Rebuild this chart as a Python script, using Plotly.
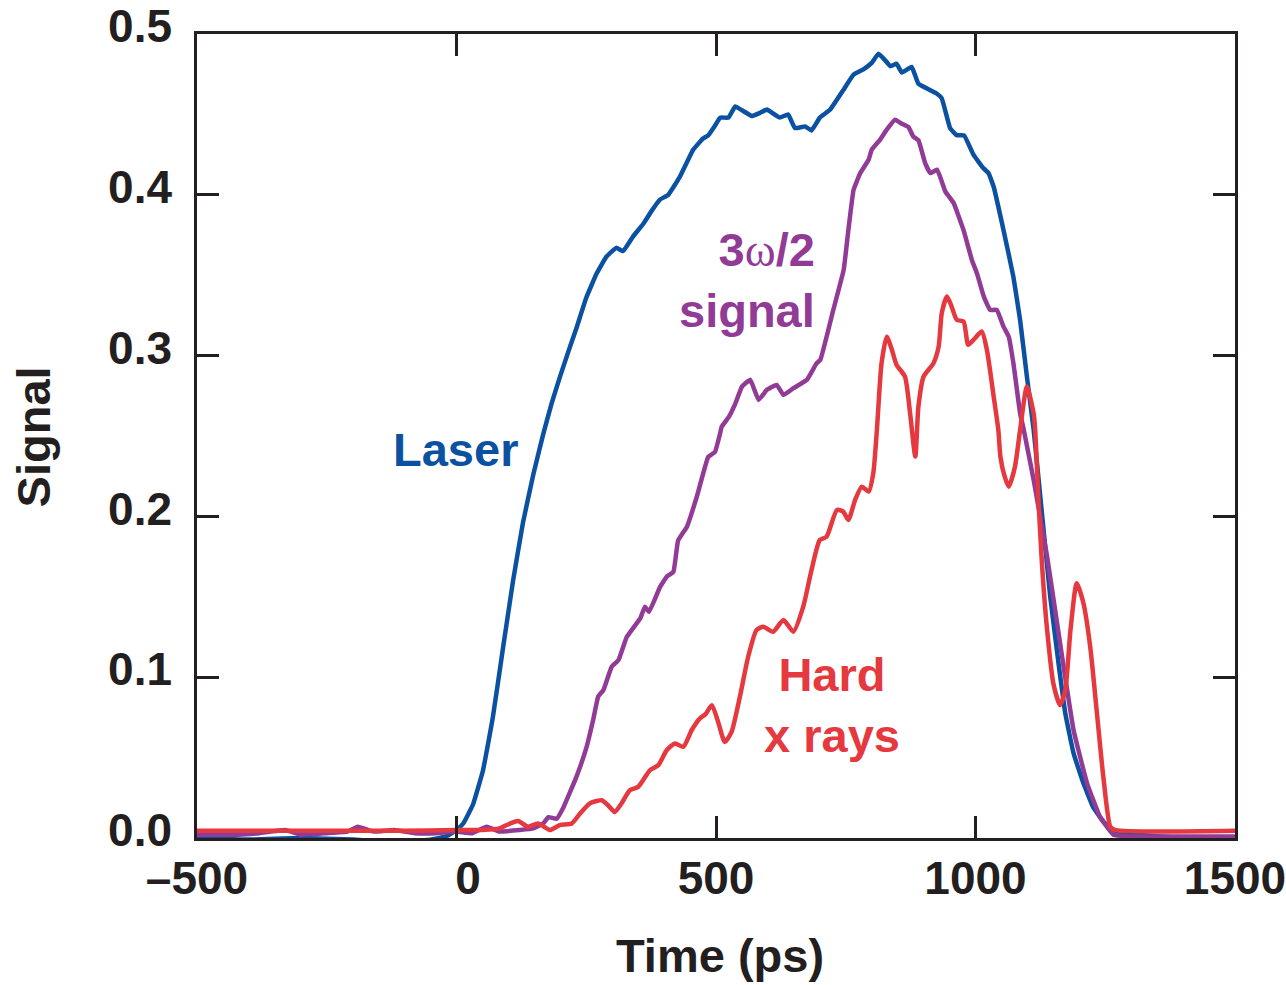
import plotly.graph_objects as go

# ---- data ----
laser_t = [-500, -400, -300, -200, -150, -100, -50, -20, 0, 13, 32, 51, 70, 90, 109, 128, 148, 167, 183, 199,
           215, 231, 250, 270, 289, 308, 321, 340, 360, 376, 392, 408, 430, 456, 475, 485, 498, 508, 524, 537,
           553, 569, 585, 598, 623, 639, 652, 672, 684, 700, 720, 745, 765, 784, 800, 813, 825, 836, 848, 858,
           877, 890, 913, 925, 935, 951, 964, 978, 996, 1015, 1025, 1035, 1054, 1073, 1086, 1099, 1112, 1128,
           1144, 1160, 1173, 1189, 1208, 1227, 1247, 1266, 1290, 1311, 1400, 1500]
laser_y = [0.0, -0.001, 0.0, -0.001, -0.002, -0.002, -0.001, 0.001, 0.005, 0.009, 0.021, 0.042, 0.075, 0.119,
           0.160, 0.196, 0.226, 0.251, 0.270, 0.2865, 0.302, 0.317, 0.336, 0.351, 0.3616, 0.367, 0.365, 0.374,
           0.382, 0.390, 0.397, 0.400, 0.411, 0.428, 0.435, 0.437, 0.443, 0.448, 0.448, 0.455, 0.452, 0.449,
           0.451, 0.453, 0.448, 0.450, 0.4415, 0.4425, 0.440, 0.448, 0.453, 0.465, 0.4747, 0.478, 0.482, 0.4877,
           0.484, 0.480, 0.4815, 0.476, 0.4795, 0.469, 0.465, 0.463, 0.460, 0.4415, 0.437, 0.437, 0.425, 0.4166,
           0.4135, 0.405, 0.378, 0.349, 0.322, 0.287, 0.254, 0.202, 0.150, 0.1086, 0.0775, 0.0526, 0.034, 0.019,
           0.010, 0.005, 0.003, 0.002, 0.0, -0.001]

signal_t = [-500, -420, -380, -330, -300, -250, -210, -190, -160, -120, -80, -40, 0, 30, 58, 83, 122, 148, 167,
            177, 193, 206, 231, 251, 263, 273, 283, 299, 312, 328, 354, 363, 371, 392, 405, 418, 427, 444, 463,
            485, 498, 508, 511, 525, 537, 550, 566, 582, 598, 617, 630, 649, 675, 694, 701, 726, 746, 755, 765,
            778, 794, 800, 816, 829, 845, 858, 871, 880, 890, 903, 913, 926, 942, 958, 977, 993, 1003, 1016,
            1028, 1041, 1054, 1064, 1073, 1086, 1093, 1112, 1138, 1163, 1189, 1215, 1240, 1266, 1300, 1500]
signal_y = [0.002, 0.002, 0.003, 0.005, 0.002, 0.003, 0.004, 0.007, 0.004, 0.005, 0.003, 0.003, 0.004, 0.003,
            0.007, 0.004, 0.005, 0.006, 0.009, 0.013, 0.012, 0.019, 0.038, 0.057, 0.073, 0.088, 0.092, 0.1065,
            0.1106, 0.125, 0.1366, 0.1438, 0.1407, 0.156, 0.1625, 0.1656, 0.185, 0.1936, 0.2122, 0.237, 0.240,
            0.2517, 0.2558, 0.262, 0.270, 0.2807, 0.285, 0.2724, 0.2787, 0.2818, 0.2755, 0.2797, 0.2849, 0.2953,
            0.2973, 0.3284, 0.3533, 0.378, 0.403, 0.4135, 0.4218, 0.428, 0.4342, 0.4405, 0.4467, 0.4442, 0.4421,
            0.4363, 0.434, 0.4197, 0.4135, 0.4156, 0.402, 0.3948, 0.378, 0.3595, 0.351, 0.3367, 0.3284, 0.3284,
            0.318, 0.3118, 0.2953, 0.264, 0.2538, 0.2227, 0.175, 0.121, 0.067, 0.034, 0.013, 0.002, 0.001, 0.001]

xray_t = [-500, -300, -100, 0, 50, 83, 103, 119, 138, 157, 180, 199, 222, 238, 257, 270, 280, 292, 305, 318,
          334, 350, 373, 389, 405, 421, 437, 453, 469, 480, 492, 505, 517, 530, 546, 562, 578, 591, 610, 630,
          649, 668, 684, 700, 713, 733, 745, 755, 768, 781, 794, 803, 810, 819, 829, 839, 848, 864, 874, 884,
          890, 900, 919, 929, 935, 945, 954, 964, 977, 986, 999, 1012, 1022, 1035, 1044, 1048, 1056, 1064,
          1076, 1086, 1099, 1112, 1115, 1121, 1128, 1138, 1150, 1163, 1173, 1183, 1195, 1208, 1221, 1234,
          1247, 1260, 1270, 1500]
xray_y = [0.0045, 0.0045, 0.0045, 0.005, 0.005, 0.006, 0.009, 0.0106, 0.007, 0.009, 0.005, 0.008, 0.009,
          0.0152, 0.0215, 0.023, 0.0235, 0.0204, 0.0162, 0.0215, 0.0297, 0.0318, 0.0422, 0.0453, 0.0546, 0.0588,
          0.0567, 0.067, 0.0744, 0.077, 0.0826, 0.0712, 0.0598, 0.066, 0.0878, 0.1127, 0.1293, 0.1314, 0.1283,
          0.1355, 0.1283, 0.1438, 0.1666, 0.1853, 0.1874, 0.204, 0.203, 0.1978, 0.2102, 0.2185, 0.2154, 0.2268,
          0.2538, 0.2953, 0.3118, 0.3035, 0.2942, 0.287, 0.264, 0.2372, 0.2683, 0.287, 0.2953, 0.3056, 0.3264,
          0.3367, 0.3305, 0.3222, 0.3212, 0.3067, 0.3108, 0.315, 0.3035, 0.2745, 0.2538, 0.2372, 0.225, 0.2185,
          0.2309, 0.2538, 0.2807, 0.264, 0.2538, 0.2122, 0.1708, 0.1293, 0.0961, 0.0826, 0.092, 0.1293, 0.1584,
          0.146, 0.119, 0.0775, 0.036, 0.0069, 0.0049, 0.0045]

x_tickvals = [-500, 0, 500, 1000, 1500]
x_ticktext = ["\u2013500", "\u20020", "500", "1000", "1500"]
y_tickvals = [0.0, 0.1, 0.2, 0.3, 0.4, 0.5]
y_ticktext = ["0.0", "0.1", "0.2", "0.3", "0.4", "0.5"]

BLUE = "#0b51a2"
PURPLE = "#913b97"
RED = "#e5383f"
AXIS = "#231f20"
FONT = "Liberation Sans, Arial, Helvetica, sans-serif"
FS = 46

fig = go.Figure()
fig.add_trace(go.Scatter(x=laser_t, y=laser_y, mode="lines",
                         line=dict(color=BLUE, width=4.5, shape="spline", smoothing=0.3), name="Laser"))
fig.add_trace(go.Scatter(x=signal_t, y=signal_y, mode="lines",
                         line=dict(color=PURPLE, width=4.5, shape="spline", smoothing=0.3), name="3ω/2 signal"))
fig.add_trace(go.Scatter(x=xray_t, y=xray_y, mode="lines",
                         line=dict(color=RED, width=4.5, shape="spline", smoothing=0.6), name="Hard x rays"))

axis_common = dict(
    showgrid=False, zeroline=False, showline=True, linecolor=AXIS, linewidth=2.5,
    mirror="ticks", ticks="inside", ticklen=22, tickwidth=2.5, tickcolor=AXIS,
    tickfont=dict(family=FONT, size=FS, color=AXIS, weight="bold"),
    ticklabeloverflow="allow", automargin=False,
)

fig.update_xaxes(range=[-500, 1500], tickvals=x_tickvals, ticktext=x_ticktext,
                 ticklabelstandoff=-2, **axis_common)
fig.update_yaxes(range=[0, 0.5], tickvals=y_tickvals, ticktext=y_ticktext,
                 ticklabelstandoff=13, ticklabelshift=-8, **axis_common)

ann_font = lambda c: dict(family=FONT, size=47, color=c, weight="bold")
fig.add_annotation(x=-1, y=0.2413, xref="x", yref="y", text="Laser", showarrow=False,
                   font=ann_font(BLUE), xanchor="center", yanchor="middle")
fig.add_annotation(x=695, y=0.347, xref="x", yref="y",
                   text="3<span style=\"font-family:'Liberation Serif', serif; font-weight:normal\">ω</span>/2<br>signal",
                   showarrow=False, align="right", font=ann_font(PURPLE), xanchor="right", yanchor="middle")
fig.add_annotation(x=724, y=0.0826, xref="x", yref="y", text="Hard<br>x rays", showarrow=False,
                   align="center", font=ann_font(RED), xanchor="center", yanchor="middle")

fig.add_annotation(x=0.504, y=-0.146, xref="paper", yref="paper", text="Time (ps)", showarrow=False,
                   font=ann_font(AXIS), xanchor="center", yanchor="middle")
fig.add_annotation(x=-0.1566, y=0.4988, xref="paper", yref="paper", text="Signal", showarrow=False,
                   font=ann_font(AXIS), xanchor="center", yanchor="middle", textangle=-90)

fig.update_layout(
    width=1286, height=985,
    margin=dict(l=197, r=51, t=34, b=147, pad=0),
    paper_bgcolor="white", plot_bgcolor="white",
    showlegend=False,
)

fig.write_html("out.html")
